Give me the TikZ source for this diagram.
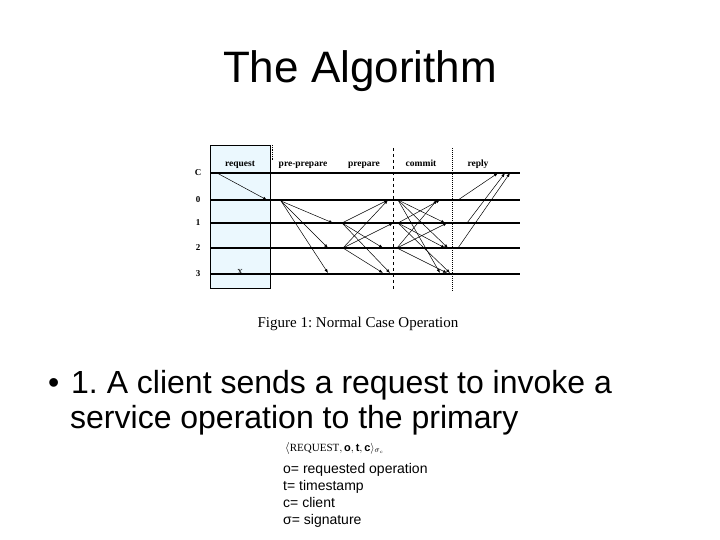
\documentclass[tikz,border=0pt]{standalone}
\usepackage{fontspec}
\setmainfont{Liberation Sans}
\newfontfamily\serif{Liberation Serif}
\usetikzlibrary{arrows.meta}
\frenchspacing
\begin{document}
\begin{tikzpicture}[x=1pt,y=-1pt,
  tl/.style={line width=1.6pt},
  msg/.style={-{Latex[length=4pt,width=3pt]},line width=0.5pt},
  hdr/.style={font=\serif\bfseries\fontsize{9.5}{10}\selectfont,inner sep=0,anchor=base},
  rl/.style={font=\serif\bfseries\fontsize{9}{10}\selectfont,inner sep=0},
  txt/.style={font=\fontsize{14}{15}\selectfont,anchor=base west,inner sep=0}]
\useasboundingbox (0,0) rectangle (720,540);
\node[anchor=base,inner sep=0] (title) at (360,83) {\fontsize{44}{50}\selectfont The Algorithm};
% request box
\draw[fill=cyan!8,draw=black,line width=0.6pt] (210,145) rectangle (270,288);
\foreach \n/\y/\l in {c/173/C,p0/200/0,p1/223/1,p2/248/2,p3/274/3}{
  \coordinate (\n L) at (210,\y); \coordinate (\n R) at (520,\y);
  \draw[tl] (\n L) -- (\n R);
  \node[rl] at (198,\y) {\l};}
\draw[densely dotted,line width=0.8pt] (272,145) -- (272,160);
\draw[dashed,line width=0.8pt] (393,148) -- (393,290);
\draw[densely dotted,line width=1pt] (452,148) -- (452,292);
\node[hdr] at (240,167) {request};
\node[hdr] at (303,167) {pre-prepare};
\node[hdr] at (364,167) {prepare};
\node[hdr] at (421,167) {commit};
\node[hdr] at (478,167) {reply};
\node[font=\serif\fontsize{11}{12}\selectfont] at (240,272) {x};
% request
\coordinate (r0) at (217,173); \coordinate (r1) at (267,200);
\draw[msg] (r0) -- (r1);
% pre-prepare
\coordinate (pp) at (281,201);
\foreach \x/\y in {333/223,328/248,328/273} \draw[msg] (pp) -- (\x,\y);
% prepare
\coordinate (a1) at (342,223); \coordinate (a2) at (343,248);
\foreach \x/\y in {388/200,383/248,390/273} \draw[msg] (a1) -- (\x,\y);
\foreach \x/\y in {388/200,393/223,383/273} \draw[msg] (a2) -- (\x,\y);
% commit
\coordinate (b0) at (398,200); \coordinate (b1) at (398,223); \coordinate (b2) at (397,248);
\foreach \x/\y in {445/223,448/248,440/273} \draw[msg] (b0) -- (\x,\y);
\foreach \x/\y in {440/200,445/248,450/273} \draw[msg] (b1) -- (\x,\y);
\foreach \x/\y in {437/200,447/223,447/273} \draw[msg] (b2) -- (\x,\y);
% reply
\draw[msg] (458,200) -- (498,173);
\draw[msg] (467,223) -- (505,173);
\draw[msg] (458,248) -- (510,173);
\node[anchor=base,inner sep=0,font=\serif\fontsize{15}{16}\selectfont] (cap) at (358,327) {Figure 1: Normal Case Operation};
% bullet
\node[anchor=base west,inner sep=0,font=\fontsize{32}{36}\selectfont] (bul) at (48,393) {•};
\node[anchor=base west,inner sep=0,font=\fontsize{32}{36}\selectfont] (b) at (71,393) {1. A client sends a request to invoke a};
\node[anchor=base west,inner sep=0,font=\fontsize{32}{36}\selectfont] (b2) at (70,428) {service operation to the primary};
\node[anchor=base west,inner sep=0,font=\serif\fontsize{13}{14}\selectfont] (f) at (285,451) {$\langle$\fontsize{11}{12}\selectfont REQUEST$,\mathbf{o},\mathbf{t},\mathbf{c}\rangle_{\sigma_c}$};
\node[txt] at (283,473) {o= requested operation};
\node[txt] at (283,490) {t= timestamp};
\node[txt] at (283,507) {c= client};
\node[txt] at (283,524) {σ= signature};
\end{tikzpicture}
\end{document}
